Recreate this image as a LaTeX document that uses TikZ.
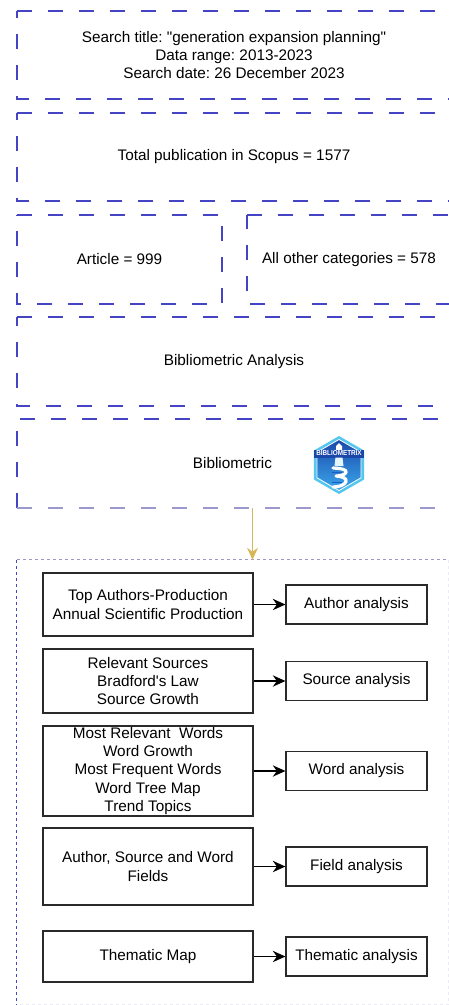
\documentclass[tikz,border=0pt]{standalone}
\usepackage{fontspec}
\setmainfont{Liberation Sans}[Ligatures=TeXOff]
\usetikzlibrary{arrows.meta}
\frenchspacing
\definecolor{dashblue}{HTML}{4444C4}
\definecolor{lav}{HTML}{9A98CC}
\definecolor{paleline}{HTML}{ECEAF4}
\definecolor{goldline}{HTML}{D6B656}
\definecolor{boxline}{HTML}{2A2A2A}
\definecolor{logocyan}{HTML}{55C6EE}
\definecolor{logonavy}{HTML}{1B48A8}
\definecolor{logoblue}{HTML}{3AA8EE}
\definecolor{logodeep}{HTML}{1F5CC0}
\tikzset{
  txt/.style={font=\fontsize{15.3}{18.2}\selectfont, align=center, inner sep=0pt},
  dbox/.style={txt},
  dashline/.style={draw=dashblue, line width=1.6pt, dash pattern=on 15pt off 16pt},
  lavline/.style={draw=lav, line width=1.6pt, dash pattern=on 15pt off 16pt},
  dotblue/.style={draw=dashblue, line width=1.2pt, dash pattern=on 3pt off 3pt},
  dotlav/.style={draw=lav, line width=1.2pt, dash pattern=on 3pt off 3pt},
  dotpale/.style={draw=paleline, line width=1.2pt, dash pattern=on 3pt off 3pt},
  itembox/.style={txt, draw=boxline, line width=1.2pt, minimum width=210pt},
  resbox/.style={txt, draw=boxline, line width=1.2pt, minimum width=141pt, minimum height=39pt},
  link/.style={draw=black, line width=1.2pt, -{Stealth[width'=0pt 0.9, scale=1.5]}},
  goldlink/.style={draw=goldline, line width=1.3pt, -{Stealth[width'=0pt 0.9, scale=1.35]}},
}
\begin{document}
\begin{tikzpicture}[x=1pt,y=1pt]
\useasboundingbox (0,-1005) rectangle (449,0);
\fill[white] (0,-1005) rectangle (449,0);

% dashed boxes
\node[dbox, minimum width=434pt, minimum height=88pt] (b1) at (234,-55)
  {Search title: "generation expansion planning"\\Data range: 2013-2023\\Search date: 26 December 2023};
\node[dbox, minimum width=434pt, minimum height=88pt] (b2) at (234,-157)
  {Total publication in Scopus = 1577};
\node[dbox, minimum width=205pt, minimum height=89pt] (b3a) at (119.5,-259.5)
  {Article = 999};
\node[dbox, minimum width=204pt, minimum height=89pt] (b3b) at (349,-259.5)
  {All other categories = 578};
\node[dbox, minimum width=434pt, minimum height=89pt] (b4) at (234,-361.5)
  {Bibliometric Analysis};
\node[dbox, minimum width=434pt, minimum height=89pt] (b5) at (234,-463.5) {};
\node[txt] (t5) at (232.5,-463) {Bibliometric};

\foreach \b in {b1,b2,b3b,b4}{
  \draw[dashline] (\b.north west) -- ([xshift=8pt]\b.north east) -- ([xshift=8pt]\b.south east) -- (\b.south west) -- cycle;
}
\draw[dashline] (b3a.north west) -- (b3a.north east) -- (b3a.south east) -- (b3a.south west) -- cycle;
\draw[dashline] (b5.south west) -- (b5.north west) -- ([xshift=8pt]b5.north east);
\draw[lavline] (b5.south west) -- ([xshift=8pt]b5.south east);

% logo
\begin{scope}[shift={(339,-465)}]
  \fill[logocyan] (90:29) -- (30:29) -- (-30:29) -- (-90:29) -- (-150:29) -- (150:29) -- cycle;
  \shade[top color=logonavy, bottom color=logoblue] (90:25.5) -- (30:25.5) -- (-30:25.5) -- (-90:25.5) -- (-150:25.5) -- (150:25.5) -- cycle;
  \draw[white, line width=0.8pt] (90:25.5) -- (30:25.5) -- (-30:25.5) -- (-90:25.5) -- (-150:25.5) -- (150:25.5) -- cycle;
  \fill[white] (0,22) -- (3,19) -- (3,15) -- (-3,15) -- (-3,19) -- cycle;
  \fill[logonavy] (-25,15.5) rectangle (25,7.5);
  \node[font=\fontsize{7.2}{7.2}\selectfont\bfseries, text=white, inner sep=0pt, xscale=0.88] (logotext) at (0,11.5) {BIBLIOMETRIX};
  \fill[white!88!logoblue] (-3.5,7.5) -- (3.5,7.5) -- (4.5,-1) -- (-4.5,-1) -- cycle;
  \draw[white, line width=3.2pt, line cap=round, line join=round]
     (-6,-3) .. controls (4,-3.5) and (8,-5) .. (7,-7.5)
     .. controls (6,-10) and (0,-11) .. (-3,-11)
     .. controls (3,-11.5) and (8,-13) .. (7,-16.5)
     .. controls (6,-20) and (0,-22) .. (-6,-22);
  \draw[logodeep, line width=0.9pt] (-7,-7.5) -- (3,-7.5);
  \draw[logodeep, line width=0.9pt] (-7,-17) -- (3,-17);
\end{scope}

% outer dotted frame
\node[inner sep=0pt, minimum width=431pt, minimum height=444pt] (outer) at (232.5,-782) {};
\draw[dotlav] (outer.north west) -- (outer.north east);
\draw[dotpale] (outer.north east) -- (outer.south east) -- (outer.south west);
\draw[dotblue] (outer.north west) -- (outer.south west);

\coordinate (ax) at (252.5,0);
\draw[goldlink] (b5.south -| ax) -- (outer.north -| ax);

\node[itembox, minimum height=63pt] (l1) at (148,-604.5)
  {Top Authors-Production\\Annual Scientific Production};
\node[itembox, minimum height=64pt] (l2) at (148,-681)
  {Relevant Sources\\Bradford's Law\\Source Growth};
\node[itembox, minimum height=90pt] (l3) at (148,-771)
  {Most Relevant\ \ Words\\Word Growth\\Most Frequent Words\\Word Tree Map\\Trend Topics};
\node[itembox, minimum height=77pt] (l4) at (148,-866.5)
  {Author, Source and Word\\Fields};
\node[itembox, minimum height=51pt] (l5) at (148,-956.5)
  {Thematic Map};

\node[resbox] (r1) at (356.5,-604.5) {Author analysis};
\node[resbox] (r2) at (356.5,-681) {Source analysis};
\node[resbox] (r3) at (356.5,-771) {Word analysis};
\node[resbox] (r4) at (356.5,-866.5) {Field analysis};
\node[resbox] (r5) at (356.5,-956.5) {Thematic analysis};

\foreach \i in {1,...,5}{
  \draw[link] (l\i.east) -- (r\i.west);
}
\end{tikzpicture}
\end{document}
